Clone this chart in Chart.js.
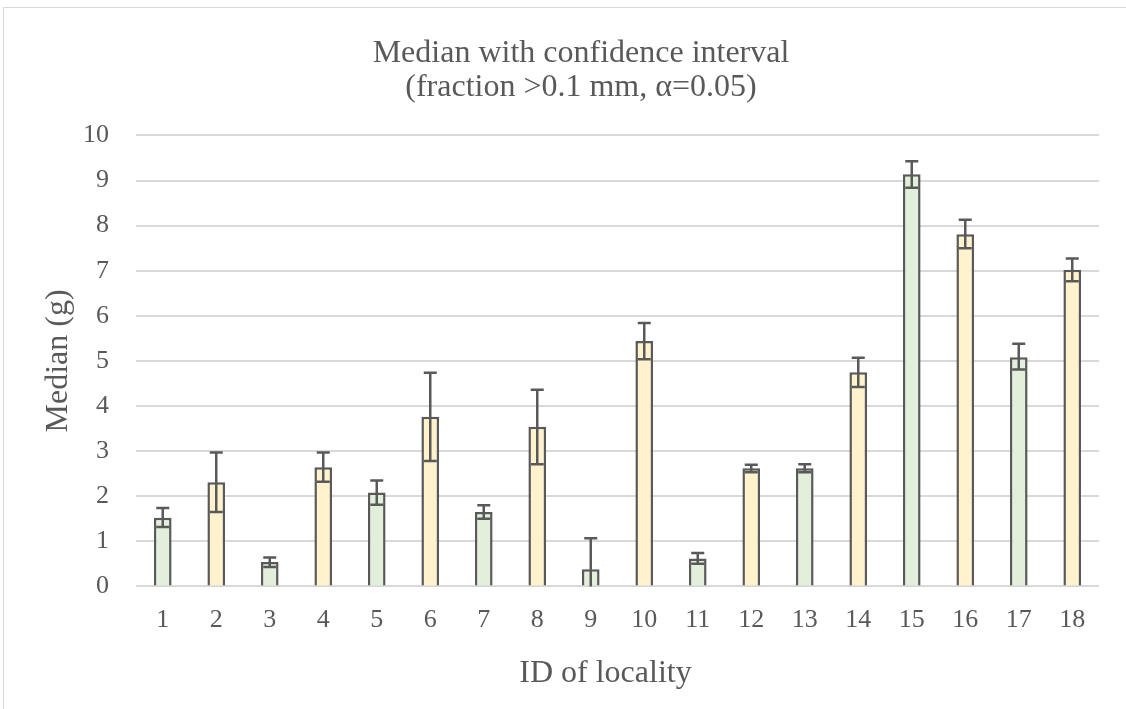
<!DOCTYPE html>
<html>
<head>
<meta charset="utf-8">
<script src="https://cdn.jsdelivr.net/npm/chart.js@4.4.1/dist/chart.umd.min.js"></script>
<style>
  html, body { margin: 0; padding: 0; background: #fff; }
  #wrap { position: relative; width: 1126px; height: 709px; overflow: hidden; }
  #frame { position: absolute; left: 3px; top: 7px; width: 1140px; height: 720px; border: 1px solid #d9d9d9; box-sizing: border-box; }
  #chart { position: absolute; left: 0; top: 0; }
</style>
</head>
<body>
<div id="wrap">
  <div id="frame"></div>
  <canvas id="chart" width="1126" height="709"></canvas>
</div>
<script>
// Median per locality with confidence interval bounds
const LOCALITIES = ['1','2','3','4','5','6','7','8','9','10','11','12','13','14','15','16','17','18'];
const MEDIANS = [1.52, 2.31, 0.54, 2.64, 2.08, 3.76, 1.65, 3.54, 0.38, 5.44, 0.62, 2.62, 2.62, 4.75, 9.14, 7.81, 5.08, 7.02];
const CI_LOW  = [1.32, 1.65, 0.43, 2.32, 1.81, 2.78, 1.50, 2.71, 0.00, 5.04, 0.50, 2.53, 2.53, 4.42, 8.84, 7.50, 4.81, 6.77];
const CI_HIGH = [1.74, 2.97, 0.64, 2.97, 2.35, 4.74, 1.80, 4.36, 1.07, 5.84, 0.74, 2.70, 2.71, 5.07, 9.43, 8.13, 5.38, 7.27];
const Y_TICKS = [0, 1, 2, 3, 4, 5, 6, 7, 8, 9, 10];

const GREEN = '#e2efda';
const YELLOW = '#fff2cc';
const EDGE = '#595959';
const SERIF = "'Liberation Serif', 'Times New Roman', serif";

// error bars drawn on top of the bars using the y scale
const errorBars = {
  id: 'errorBars',
  afterDatasetsDraw(chart) {
    const { ctx, scales: { y } } = chart;
    const meta = chart.getDatasetMeta(0);
    ctx.save();
    ctx.strokeStyle = EDGE;
    ctx.lineWidth = 2.5;
    meta.data.forEach((bar, i) => {
      const yHi = y.getPixelForValue(CI_HIGH[i]);
      const yLo = y.getPixelForValue(CI_LOW[i]);
      const cap = 6.5;
      ctx.beginPath();
      ctx.moveTo(bar.x, yHi); ctx.lineTo(bar.x, yLo);
      ctx.moveTo(bar.x - cap, yHi); ctx.lineTo(bar.x + cap, yHi);
      if (CI_LOW[i] > 0) { ctx.moveTo(bar.x - cap, yLo); ctx.lineTo(bar.x + cap, yLo); }
      ctx.stroke();
    });
    ctx.restore();
  }
};

new Chart(document.getElementById('chart'), {
  type: 'bar',
  data: {
    labels: LOCALITIES,
    datasets: [{
      label: 'Median',
      data: MEDIANS,
      backgroundColor: MEDIANS.map((v, i) => i % 2 === 0 ? GREEN : YELLOW),
      borderColor: EDGE,
      borderWidth: 2.5,
      borderSkipped: 'bottom',
      barPercentage: 0.33,
      categoryPercentage: 1
    }]
  },
  options: {
    responsive: false,
    animation: false,
    layout: { padding: { left: 39, right: 27, top: 0, bottom: 14 } },
    plugins: {
      legend: { display: false },
      tooltip: { enabled: false },
      title: {
        display: true,
        // leading spaces nudge the centred text right, as in the original
        text: ['   Median with confidence interval', '   (fraction >0.1 mm, \u03b1=0.05)'],
        color: EDGE,
        font: { family: SERIF, size: 32, weight: 'normal', lineHeight: 1.07 },
        padding: { top: 36, bottom: 31 }
      }
    },
    scales: {
      x: {
        grid: { display: false },
        border: { display: false },
        ticks: { color: EDGE, font: { family: SERIF, size: 26 }, padding: 10, maxRotation: 0 },
        title: { display: true, text: 'ID of locality   ', color: EDGE, font: { family: SERIF, size: 32 }, padding: { top: 9, bottom: 2 } }
      },
      y: {
        min: 0, max: 10,
        afterBuildTicks: axis => { axis.ticks = Y_TICKS.map(v => ({ value: v })); },
        afterFit: axis => { axis.width = 97; },
        grid: { color: '#d9d9d9', lineWidth: 2, drawTicks: false },
        border: { display: false },
        ticks: { color: EDGE, font: { family: SERIF, size: 26 }, padding: 27 },
        title: { display: true, text: 'Median (g)', color: EDGE, font: { family: SERIF, size: 32 }, padding: { top: 0, bottom: 6 } }
      }
    }
  },
  plugins: [errorBars]
});
</script>
</body>
</html>
